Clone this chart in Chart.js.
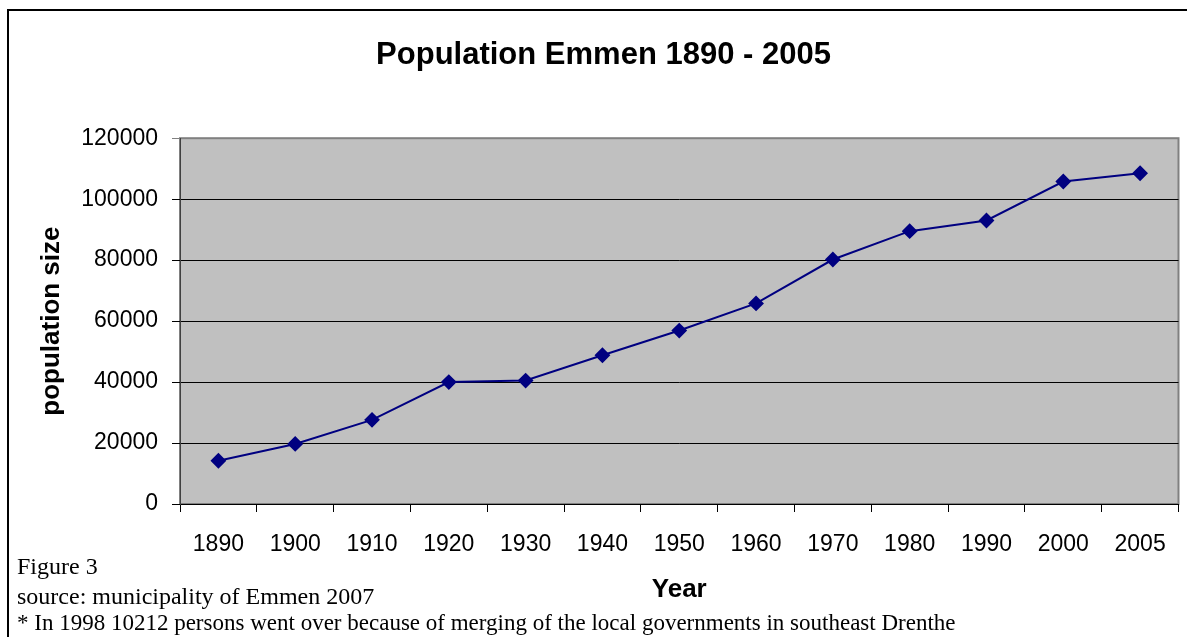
<!DOCTYPE html>
<html>
<head>
<meta charset="utf-8">
<script src="https://cdn.jsdelivr.net/npm/chart.js@4"></script>
<style>
    body { margin: 0; background: #fff; }
    #wrap { position: relative; width: 1187px; height: 637px; overflow: hidden; }
    #frame { position: absolute; left: 7px; top: 9px; width: 1300px; height: 700px; border-left: 2px solid #000; border-top: 2px solid #000; }
    .note { position: absolute; left: 17px; font-family: "Liberation Serif", "Times New Roman", serif; color: #000; white-space: nowrap; }
</style>
</head>
<body>
<div id="wrap">
    <canvas id="popChart" width="1187" height="637"></canvas>
    <div id="frame"></div>
    <div class="note" style="top: 554px; font-size: 24px; line-height: 24px;">Figure 3</div>
    <div class="note" style="top: 584px; font-size: 24px; line-height: 24px;">source: municipality of Emmen 2007</div>
    <div class="note" style="top: 611px; font-size: 23px; line-height: 23px;">* In 1998 10212 persons went over because of merging of the local governments in southeast Drenthe</div>
</div>
<script>
const years = ['1890', '1900', '1910', '1920', '1930', '1940', '1950', '1960', '1970', '1980', '1990', '2000', '2005'];
const population = [14200, 19700, 27600, 40000, 40500, 48800, 56900, 65800, 80200, 89500, 93000, 105800, 108500];
const yTicks = [0, 20000, 40000, 60000, 80000, 100000, 120000];

// grey plot background with a thin border, like the old spreadsheet charts
const plotBackground = {
    id: 'plotBackground',
    beforeDraw: function(chart) {
        const a = chart.chartArea;
        const ctx = chart.ctx;
        ctx.save();
        ctx.fillStyle = '#c0c0c0';
        ctx.fillRect(a.left, a.top, a.right - a.left, a.bottom - a.top);
        ctx.strokeStyle = '#808080';
        ctx.lineWidth = 2;
        ctx.strokeRect(a.left, a.top, a.right - a.left, a.bottom - a.top);
        ctx.restore();
    }
};

document.addEventListener('DOMContentLoaded', function() {
    const canvas = document.getElementById('popChart');
    const ctx = canvas.getContext('2d');

    new Chart(ctx, {
        type: 'line',
        data: {
            labels: years,
            datasets: [{
                label: 'population',
                data: population,
                borderColor: '#000080',
                backgroundColor: '#000080',
                borderWidth: 2,
                pointStyle: 'rectRot',
                pointRadius: 6.5,
                pointHoverRadius: 6.5,
                tension: 0
            }]
        },
        options: {
            responsive: false,
            animation: false,
            layout: {
                padding: { top: 0, left: 28, right: 8, bottom: 0 }
            },
            plugins: {
                legend: { display: false },
                tooltip: { enabled: false },
                title: {
                    display: true,
                    text: 'Population Emmen 1890 - 2005',
                    color: '#000',
                    font: { family: '"Liberation Sans", Arial, sans-serif', size: 31, weight: 'bold' },
                    padding: { top: 37, bottom: 64 }
                }
            },
            scales: {
                x: {
                    offset: true,
                    afterFit: function(scale) { scale.height = 133; },
                    grid: {
                        offset: true,
                        drawOnChartArea: false,
                        tickLength: 8,
                        color: '#000'
                    },
                    border: { color: '#000', width: 1 },
                    ticks: {
                        color: '#000',
                        padding: 19,
                        maxRotation: 0,
                        font: { family: '"Liberation Sans", Arial, sans-serif', size: 23 }
                    },
                    title: {
                        display: true,
                        text: 'Year',
                        color: '#000',
                        font: { family: '"Liberation Sans", Arial, sans-serif', size: 26, weight: 'bold' },
                        padding: { top: 0, bottom: 32 }
                    }
                },
                y: {
                    min: 0,
                    max: 120000,
                    afterFit: function(scale) { scale.width = 152; },
                    afterBuildTicks: function(scale) {
                        scale.ticks = yTicks.map(function(v) { return { value: v }; });
                    },
                    grid: {
                        tickLength: 8,
                        color: function(c) {
                            return c.tick && c.tick.value === 120000 ? '#808080' : '#000';
                        }
                    },
                    border: { color: '#404040', width: 1 },
                    ticks: {
                        color: '#000',
                        padding: 14,
                        font: { family: '"Liberation Sans", Arial, sans-serif', size: 23 },
                        callback: function(v) { return String(v); }
                    },
                    title: {
                        display: true,
                        text: 'population size',
                        color: '#000',
                        font: { family: '"Liberation Sans", Arial, sans-serif', size: 26, weight: 'bold' },
                        padding: { top: 8, bottom: 0 }
                    }
                }
            }
        },
        plugins: [plotBackground]
    });
});
</script>
</body>
</html>
